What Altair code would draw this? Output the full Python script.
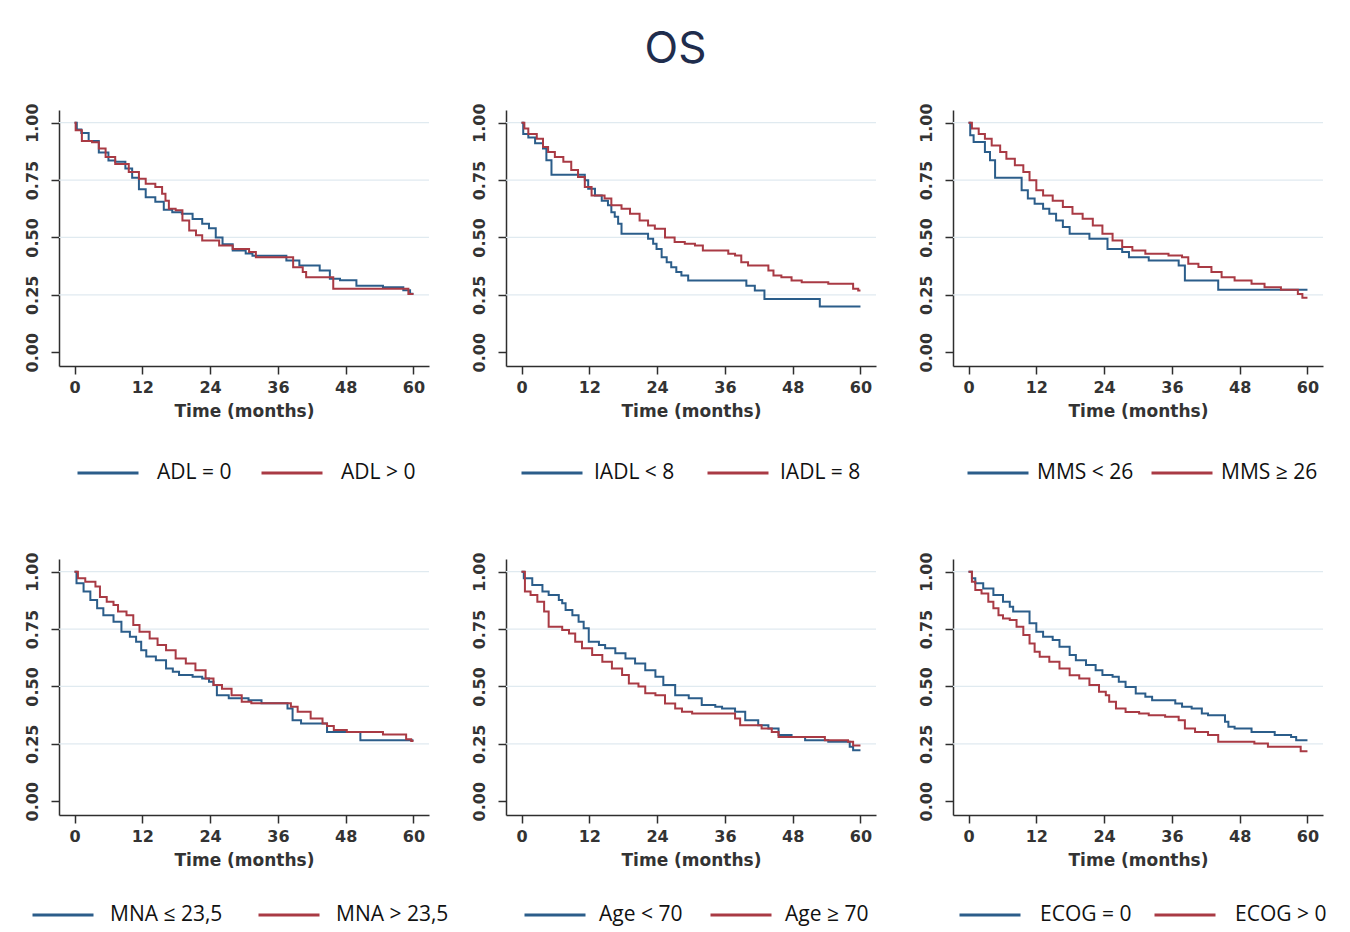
import altair as alt
import pandas as pd

# ---------------- data ----------------
X_TICKS = [0, 12, 24, 36, 48, 60]
Y_TICKS = [0.0, 0.25, 0.5, 0.75, 1.0]
GRID_Y = [0.25, 0.5, 0.75, 1.0]

# Panel 1: ADL
adl0_t = [0, 0.4, 1.2, 2.5, 4.3, 6.0, 7.2, 9.0, 10.2, 11.4, 12.6, 14.3, 15.8, 17.3, 19.0, 20.9, 22.6, 23.8, 25.0, 26.2, 28.0, 30.3, 31.5, 37.5, 39.8, 43.4, 45.2, 47.0, 49.9, 54.6, 58.2, 59.4, 60]
adl0_s = [1.0, 0.97, 0.955, 0.92, 0.87, 0.835, 0.83, 0.80, 0.76, 0.71, 0.675, 0.655, 0.62, 0.61, 0.603, 0.58, 0.56, 0.54, 0.50, 0.47, 0.443, 0.43, 0.42, 0.40, 0.378, 0.356, 0.32, 0.313, 0.29, 0.283, 0.27, 0.255, 0.255]
adl1_t = [0, 0.2, 1.3, 3.1, 4.3, 5.5, 7.2, 9.6, 11.4, 12.6, 14.3, 15.5, 16.1, 16.7, 17.9, 19.1, 20.3, 21.5, 22.6, 25.6, 28.0, 30.9, 32.1, 38.7, 40.4, 41.0, 45.8, 59.1, 60]
adl1_s = [1.0, 0.967, 0.92, 0.915, 0.887, 0.85, 0.82, 0.785, 0.756, 0.734, 0.72, 0.69, 0.66, 0.625, 0.618, 0.574, 0.53, 0.51, 0.487, 0.465, 0.45, 0.436, 0.414, 0.37, 0.349, 0.327, 0.276, 0.254, 0.254]

# Panel 2: IADL
iadl_lt8_t = [0, 0.3, 1.2, 2.4, 3.8, 4.4, 5.3, 11.2, 11.8, 13.0, 14.2, 15.3, 15.9, 16.5, 17.1, 17.7, 22.4, 23.3, 23.9, 24.8, 25.7, 26.5, 27.4, 28.3, 29.5, 39.8, 41.3, 43.0, 52.8, 60]
iadl_lt8_s = [1.0, 0.95, 0.935, 0.91, 0.887, 0.836, 0.773, 0.749, 0.712, 0.683, 0.66, 0.64, 0.61, 0.59, 0.56, 0.516, 0.494, 0.472, 0.45, 0.414, 0.392, 0.37, 0.349, 0.334, 0.312, 0.29, 0.269, 0.232, 0.199, 0.199]
iadl_8_t = [0, 0.5, 1.2, 2.7, 3.8, 4.7, 5.9, 7.4, 8.8, 10.0, 11.2, 12.4, 14.7, 15.9, 17.7, 19.2, 20.9, 22.4, 23.6, 25.4, 27.1, 28.9, 30.7, 32.1, 36.6, 37.8, 38.9, 40.1, 43.7, 44.6, 46.0, 47.8, 49.6, 54.3, 58.7, 59.6, 60]
iadl_8_s = [1.0, 0.974, 0.95, 0.93, 0.894, 0.872, 0.85, 0.83, 0.794, 0.763, 0.72, 0.683, 0.67, 0.64, 0.625, 0.603, 0.574, 0.552, 0.538, 0.50, 0.48, 0.472, 0.465, 0.443, 0.429, 0.421, 0.392, 0.378, 0.356, 0.334, 0.327, 0.312, 0.305, 0.298, 0.276, 0.269, 0.269]

# Panel 3: MMS
mms_lt26_t = [0, 0.3, 0.9, 2.9, 3.8, 4.7, 9.4, 10.5, 11.7, 13.2, 14.3, 15.5, 16.7, 17.9, 21.4, 24.6, 27.2, 28.4, 31.9, 37.2, 38.3, 44.2, 60]
mms_lt26_s = [1.0, 0.945, 0.916, 0.872, 0.836, 0.76, 0.705, 0.669, 0.647, 0.625, 0.603, 0.574, 0.545, 0.516, 0.494, 0.45, 0.436, 0.414, 0.40, 0.378, 0.312, 0.272, 0.272]
mms_ge26_t = [0, 0.6, 1.8, 2.9, 4.1, 5.6, 6.7, 8.2, 9.7, 10.8, 12.0, 13.2, 14.9, 16.7, 18.4, 20.2, 22.0, 23.7, 25.5, 27.2, 29.0, 31.3, 35.4, 37.8, 38.9, 40.7, 43.0, 44.8, 47.1, 50.1, 52.4, 55.3, 58.3, 59.1, 60]
mms_ge26_s = [1.0, 0.974, 0.95, 0.93, 0.90, 0.872, 0.843, 0.814, 0.785, 0.749, 0.705, 0.683, 0.66, 0.632, 0.603, 0.581, 0.552, 0.516, 0.487, 0.458, 0.443, 0.429, 0.421, 0.414, 0.385, 0.371, 0.349, 0.327, 0.312, 0.298, 0.283, 0.272, 0.254, 0.237, 0.237]

# Panel 4: MNA
mna_le_t = [0, 0.35, 1.6, 2.8, 4.0, 5.1, 6.9, 8.3, 9.8, 10.9, 11.8, 12.7, 14.4, 16.2, 17.4, 18.5, 20.9, 22.6, 23.8, 24.6, 25.2, 27.3, 30.8, 33.1, 37.7, 38.6, 40.1, 44.7, 50.6, 60]
mna_le_s = [1.0, 0.949, 0.913, 0.876, 0.84, 0.81, 0.782, 0.738, 0.716, 0.695, 0.658, 0.63, 0.614, 0.578, 0.564, 0.55, 0.542, 0.535, 0.52, 0.506, 0.462, 0.448, 0.44, 0.427, 0.404, 0.353, 0.339, 0.302, 0.266, 0.266]
mna_gt_t = [0, 0.6, 1.9, 3.7, 4.5, 5.7, 6.9, 7.7, 9.2, 10.4, 11.5, 13.3, 14.7, 16.2, 17.9, 19.7, 21.4, 23.2, 24.6, 26.1, 27.8, 29.6, 31.3, 38.3, 39.5, 41.8, 43.9, 44.7, 45.9, 48.2, 54.6, 58.7, 59.6, 60]
mna_gt_s = [1.0, 0.971, 0.956, 0.935, 0.89, 0.869, 0.855, 0.826, 0.81, 0.767, 0.738, 0.709, 0.68, 0.658, 0.622, 0.60, 0.571, 0.535, 0.506, 0.49, 0.462, 0.433, 0.427, 0.411, 0.39, 0.36, 0.339, 0.328, 0.31, 0.302, 0.291, 0.27, 0.262, 0.262]

# Panel 5: Age
age_lt70_t = [0, 0.4, 1.9, 3.7, 4.8, 6.6, 7.2, 7.8, 9.0, 10.1, 11.0, 11.9, 13.7, 14.8, 16.6, 18.4, 20.1, 21.9, 23.7, 25.1, 27.2, 29.6, 31.9, 34.3, 35.5, 37.8, 39.6, 41.9, 43.7, 45.5, 47.8, 50.2, 54.3, 58.1, 58.7, 60]
age_lt70_s = [1.0, 0.971, 0.942, 0.913, 0.898, 0.876, 0.862, 0.833, 0.81, 0.782, 0.753, 0.695, 0.68, 0.666, 0.644, 0.622, 0.60, 0.571, 0.542, 0.506, 0.462, 0.448, 0.419, 0.411, 0.404, 0.39, 0.353, 0.331, 0.317, 0.288, 0.28, 0.266, 0.259, 0.237, 0.222, 0.222]
age_ge70_t = [0, 0.6, 1.6, 2.8, 4.0, 4.8, 7.2, 8.4, 9.5, 10.7, 12.5, 14.3, 16.0, 17.8, 19.0, 20.7, 21.9, 23.7, 25.4, 27.2, 28.4, 30.2, 37.8, 38.7, 42.5, 44.3, 45.5, 53.7, 57.8, 58.7, 60]
age_ge70_s = [1.0, 0.913, 0.898, 0.869, 0.826, 0.76, 0.746, 0.731, 0.695, 0.666, 0.637, 0.608, 0.578, 0.55, 0.513, 0.50, 0.47, 0.462, 0.426, 0.404, 0.39, 0.382, 0.36, 0.331, 0.317, 0.302, 0.28, 0.266, 0.259, 0.243, 0.243]

# Panel 6: ECOG
ecog0_t = [0, 0.6, 1.2, 2.6, 4.4, 6.1, 7.3, 7.9, 10.8, 12.0, 13.2, 14.9, 16.1, 17.9, 19.0, 20.8, 22.5, 23.7, 25.5, 26.6, 27.8, 29.6, 31.3, 32.5, 36.6, 37.8, 39.5, 41.3, 42.4, 45.4, 46.0, 47.1, 50.1, 54.2, 57.1, 58.0, 60]
ecog0_s = [1.0, 0.971, 0.949, 0.927, 0.898, 0.869, 0.847, 0.826, 0.775, 0.738, 0.716, 0.702, 0.673, 0.637, 0.614, 0.593, 0.571, 0.55, 0.542, 0.52, 0.498, 0.469, 0.455, 0.44, 0.426, 0.411, 0.404, 0.382, 0.375, 0.346, 0.324, 0.317, 0.302, 0.288, 0.28, 0.266, 0.266]
ecog1_t = [0, 0.6, 1.2, 2.3, 3.5, 4.4, 5.3, 6.1, 7.3, 8.5, 9.7, 10.8, 11.7, 12.6, 14.3, 16.1, 17.9, 19.6, 21.4, 23.1, 24.3, 24.9, 26.1, 27.8, 30.2, 31.9, 34.8, 37.2, 38.3, 40.1, 42.4, 44.2, 50.6, 53.0, 58.8, 60]
ecog1_s = [1.0, 0.956, 0.92, 0.905, 0.869, 0.84, 0.81, 0.796, 0.789, 0.76, 0.724, 0.687, 0.651, 0.629, 0.607, 0.578, 0.549, 0.535, 0.506, 0.477, 0.462, 0.433, 0.404, 0.389, 0.382, 0.375, 0.368, 0.353, 0.317, 0.302, 0.288, 0.259, 0.251, 0.237, 0.218, 0.218]

# ---------------- styling ----------------
BLUE = "#2b5d8a"
RED = "#a93a44"
AXIS_COLOR = "#2e2e2e"
LABEL_COLOR = "#333333"
GRID_COLOR = "#e0eaf0"
W, H = 370, 256


def y_axis():
    return alt.Axis(values=Y_TICKS, format=".2f", title=None, grid=False,
                    labelAngle=270, labelAlign="center", labelBaseline="bottom",
                    labelPadding=11)


def panel(ta, sa, tb, sb, la, lb, legx, legy, label_offset, col_pad):
    df = pd.DataFrame({
        "t": ta + tb,
        "s": sa + sb,
        "g": [la] * len(ta) + [lb] * len(tb),
    })
    yscale = alt.Scale(domain=[-0.06, 1.055], nice=False, zero=False)
    xscale = alt.Scale(domain=[-2.75, 62.75], nice=False, zero=False)
    grid = alt.Chart(pd.DataFrame({"s": GRID_Y})).mark_rule(
        color=GRID_COLOR, strokeWidth=1.2
    ).encode(y=alt.Y("s:Q", scale=yscale, axis=y_axis()))
    lines = alt.Chart(df).mark_line(interpolate="step-after", strokeWidth=2).encode(
        x=alt.X("t:Q", scale=xscale,
                axis=alt.Axis(values=X_TICKS, title="Time (months)", grid=False,
                              labelPadding=5)),
        y=alt.Y("s:Q", scale=yscale, axis=y_axis()),
        color=alt.Color("g:N",
                        scale=alt.Scale(domain=[la, lb], range=[BLUE, RED]),
                        legend=alt.Legend(
                            title=None, orient="none", legendX=legx, legendY=legy,
                            direction="horizontal", symbolType="stroke",
                            symbolSize=3721, symbolStrokeWidth=3,
                            labelFont="Open Sans", labelFontSize=21, labelColor="#111111",
                            labelOffset=label_offset, columnPadding=col_pad, padding=0,
                        )),
        order=alt.Order("t:Q"),
    )
    return alt.layer(grid, lines).properties(width=W, height=H)


p1 = panel(adl0_t, adl0_s, adl1_t, adl1_s, "ADL = 0", "ADL > 0", 17, 331, 17, 23)
p2 = panel(iadl_lt8_t, iadl_lt8_s, iadl_8_t, iadl_8_s, "IADL < 8", "IADL = 8", 14, 331, 10, 26)
p3 = panel(mms_lt26_t, mms_lt26_s, mms_ge26_t, mms_ge26_s, "MMS < 26", "MMS ≥ 26", 13, 331, 7, 11)
p4 = panel(mna_le_t, mna_le_s, mna_gt_t, mna_gt_s, "MNA ≤ 23,5", "MNA > 23,5", -28, 324, 15, 29)
p5 = panel(age_lt70_t, age_lt70_s, age_ge70_t, age_ge70_s, "Age < 70", "Age ≥ 70", 17, 324, 12, 21)
p6 = panel(ecog0_t, ecog0_s, ecog1_t, ecog1_s, "ECOG = 0", "ECOG > 0", 5, 324, 18, 16)

chart = alt.concat(
    p1, p2, p3, p4, p5, p6, columns=3,
    spacing={"row": 193, "column": 77}, bounds="flush",
).resolve_scale(color="independent").properties(
    title=alt.TitleParams("OS", fontSize=44, font="Inter", color="#1f2d4d",
                          fontWeight="normal", anchor="middle", offset=31),
    padding={"left": 15, "top": 19, "right": 5, "bottom": 10},
    background="white",
).configure_view(stroke=None).configure_axis(
    domainColor=AXIS_COLOR, domainWidth=1.5, tickColor=AXIS_COLOR, tickWidth=1.5,
    tickSize=8, labelColor=LABEL_COLOR, labelFont="DejaVu Sans", labelFontWeight="bold",
    labelFontSize=16, titleFont="DejaVu Sans", titleFontSize=17, titleColor=LABEL_COLOR,
    titleFontWeight="bold", titlePadding=8,
)

chart.save("out.html", embed_options={"renderer": "svg", "actions": False})
